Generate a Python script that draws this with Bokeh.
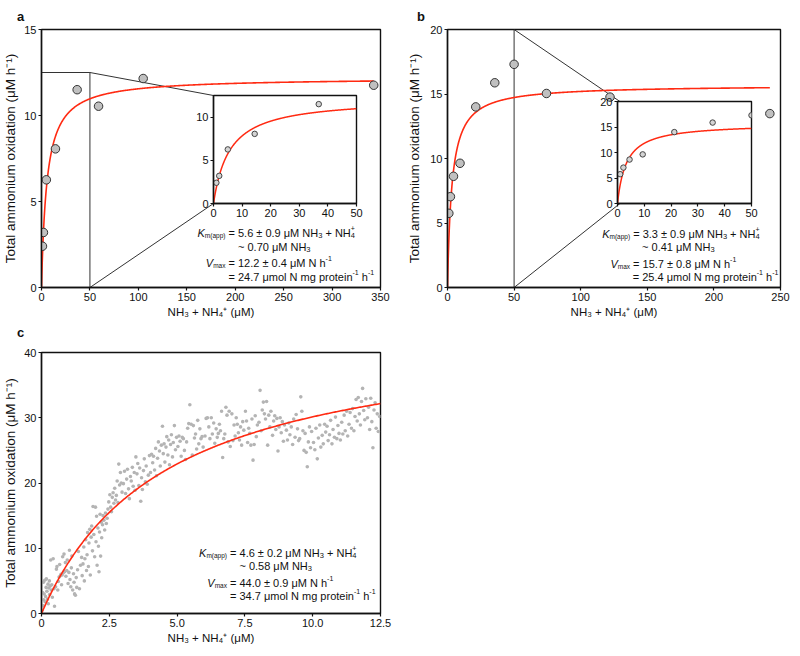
import numpy as np
from bokeh.plotting import figure
from bokeh.models import GridBox, Range1d, FixedTicker, Div
from bokeh.core.properties import value
from bokeh.embed import file_html
from bokeh.resources import INLINE

# ---------------- data ----------------
# panel a
A_S = [1.0, 2.0, 5.0, 14.4, 36.8, 58.9, 105.0, 343.0]
A_V = [2.40, 3.20, 6.26, 8.06, 11.50, 10.54, 12.15, 11.76]
A_FIT = dict(km=5.6, km_err=0.9, km_nh3=0.70, vmax=12.2, vmax_err=0.4, vspec=24.7)
A_XTICKS = [0, 50, 100, 150, 200, 250, 300, 350]
A_YTICKS = [0, 5, 10, 15]
A_IN_X = (0, 50)
A_IN_Y = (0, 12.5)
A_IN_XTICKS = [0, 10, 20, 30, 40, 50]
A_IN_YTICKS = [0, 5, 10]

# panel b
B_S = [1.0, 2.2, 4.5, 9.4, 21.2, 35.5, 50.0, 74.3, 122.0, 242.0]
B_V = [5.75, 7.04, 8.62, 9.63, 14.0, 15.87, 17.3, 15.04, 14.76, 13.48]
B_FIT = dict(km=3.3, km_err=0.9, km_nh3=0.41, vmax=15.7, vmax_err=0.8, vspec=25.4)
B_XTICKS = [0, 50, 100, 150, 200, 250]
B_YTICKS = [0, 5, 10, 15, 20]
B_IN_X = (0, 50)
B_IN_Y = (0, 20)
B_IN_XTICKS = [0, 10, 20, 30, 40, 50]
B_IN_YTICKS = [0, 5, 10, 15, 20]

# panel c
C_S = [
    0.02, 0.04, 0.05, 0.07, 0.08, 0.10, 0.12, 0.13, 0.15, 0.17, 0.18, 0.20, 0.22, 0.24, 0.25, 0.27, 0.29, 0.30, 0.32, 0.34, 0.36, 0.38, 0.40, 0.43, 0.46, 0.48,
    0.52, 0.55, 0.57, 0.60, 0.62, 0.65, 0.67, 0.70, 0.72, 0.74, 0.76, 0.78, 0.80, 0.83, 0.85, 0.88, 0.90, 0.93, 0.95, 0.98,
    1.01, 1.03, 1.05, 1.08, 1.10, 1.12, 1.15, 1.18, 1.20, 1.22, 1.25, 1.28, 1.30, 1.33, 1.36, 1.40, 1.44, 1.48,
    1.50, 1.53, 1.56, 1.58, 1.60, 1.63, 1.66, 1.68, 1.70, 1.73, 1.75, 1.78, 1.80, 1.83, 1.85, 1.88, 1.90, 1.93, 1.96, 1.99,
    2.01, 2.03, 2.05, 2.08, 2.10, 2.12, 2.14, 2.16, 2.18, 2.20, 2.22, 2.25, 2.27, 2.30, 2.33, 2.36, 2.39, 2.42, 2.45, 2.48,
    2.52, 2.55, 2.58, 2.61, 2.64, 2.67, 2.70, 2.73, 2.76, 2.79, 2.82, 2.85, 2.88, 2.91, 2.94, 2.97,
    3.02, 3.06, 3.10, 3.14, 3.17, 3.21, 3.24, 3.28, 3.31, 3.35, 3.38, 3.42, 3.45, 3.48,
    3.52, 3.55, 3.59, 3.62, 3.66, 3.69, 3.72, 3.76, 3.79, 3.83, 3.86, 3.90, 3.94, 3.98,
    4.02, 4.06, 4.10, 4.13, 4.17, 4.21, 4.24, 4.28, 4.31, 4.35, 4.38, 4.42, 4.46, 4.49,
    4.52, 4.55, 4.59, 4.62, 4.66, 4.69, 4.72, 4.76, 4.79, 4.83, 4.86, 4.90, 4.94, 4.98,
    5.03, 5.07, 5.11, 5.15, 5.19, 5.23, 5.27, 5.31, 5.35, 5.39, 5.43, 5.47,
    5.52, 5.56, 5.60, 5.64, 5.68, 5.72, 5.76, 5.80, 5.84, 5.88, 5.92, 5.96,
    6.03, 6.07, 6.12, 6.17, 6.21, 6.26, 6.30, 6.35, 6.39, 6.44, 6.48,
    6.52, 6.56, 6.60, 6.64, 6.68, 6.72, 6.76, 6.80, 6.84, 6.88, 6.92, 6.96,
    7.02, 7.06, 7.10, 7.14, 7.18, 7.22, 7.26, 7.30, 7.34, 7.38, 7.42, 7.46,
    7.52, 7.56, 7.60, 7.64, 7.68, 7.72, 7.76, 7.80, 7.84, 7.88, 7.92, 7.96,
    8.02, 8.06, 8.10, 8.14, 8.18, 8.22, 8.26, 8.30, 8.34, 8.38, 8.42, 8.46,
    8.52, 8.56, 8.60, 8.64, 8.68, 8.72, 8.76, 8.80, 8.84, 8.88, 8.92, 8.96,
    9.03, 9.07, 9.12, 9.16, 9.21, 9.26, 9.30, 9.35, 9.39, 9.44, 9.48,
    9.52, 9.56, 9.60, 9.64, 9.68, 9.72, 9.76, 9.80, 9.84, 9.88, 9.92, 9.96,
    10.03, 10.08, 10.12, 10.17, 10.21, 10.26, 10.30, 10.35, 10.39, 10.44, 10.48,
    10.53, 10.57, 10.62, 10.66, 10.71, 10.75, 10.80, 10.84, 10.89, 10.93, 10.97,
    11.02, 11.07, 11.11, 11.16, 11.20, 11.25, 11.29, 11.34, 11.38, 11.43, 11.47,
    11.52, 11.56, 11.60, 11.64, 11.68, 11.72, 11.76, 11.80, 11.84, 11.88, 11.92, 11.96,
    12.02, 12.06, 12.10, 12.14, 12.18, 12.22, 12.26, 12.30, 12.34, 12.38, 12.42, 12.47,
]
C_V = [
    0.5, 3.2, 1.2, 4.8, 2.1, 3.0, 5.1, 1.8, 2.6, 4.0, 5.3, 3.4, 2.2, 4.5, 1.5, 3.9, 5.0, 2.9, 4.2, 8.2, 3.6, 4.4, 2.5, 8.4, 3.8, 1.1,
    4.1, 6.8, 7.2, 3.6, 4.9, 5.6, 7.5, 5.8, 6.0, 4.4, 5.9, 8.7, 6.2, 9.1, 6.4, 7.8, 5.7, 6.6, 8.2, 4.6,
    6.3, 9.7, 5.2, 4.1, 7.0, 8.8, 3.6, 6.1, 4.8, 3.0, 2.8, 5.5, 4.0, 6.7, 9.5, 3.8, 7.4, 8.6,
    5.8, 7.6, 10.2, 5.0, 8.4, 11.3, 6.6, 9.0, 12.4, 7.2, 10.8, 12.9, 5.9, 11.7, 13.4, 9.6, 16.4, 12.1, 8.7, 16.3,
    11.0, 14.9, 7.4, 13.1, 10.3, 6.4, 12.5, 15.2, 8.8, 14.0, 11.6, 13.6, 15.0, 14.3, 12.8, 15.4, 13.8, 14.6, 16.0, 17.1,
    18.2, 16.3, 15.6, 17.8, 18.5, 16.9, 19.2, 17.4, 18.1, 20.3, 17.0, 22.9, 19.7, 21.6, 20.0, 18.6,
    19.9, 21.8, 18.4, 20.6, 22.1, 19.1, 17.6, 21.0, 20.3, 22.4, 19.5, 21.6, 18.9, 24.0,
    21.4, 23.0, 19.6, 22.3, 17.2, 20.8, 19.0, 21.9, 23.7, 20.2, 22.6, 19.8, 21.2, 24.2,
    21.6, 24.4, 23.1, 24.1, 22.0, 25.3, 21.1, 23.8, 26.3, 24.9, 22.6, 25.8, 28.7, 24.5,
    26.0, 23.2, 25.5, 27.1, 24.3, 26.6, 22.8, 25.9, 27.4, 24.0, 26.2, 28.8, 25.1, 27.0,
    25.6, 27.2, 26.4, 24.1, 27.0, 26.8, 25.0, 23.6, 26.3, 28.4, 29.1, 32.0,
    29.0, 24.3, 28.8, 26.9, 27.5, 25.2, 29.6, 26.0, 28.3, 26.8, 27.1, 25.5,
    27.2, 29.9, 30.0, 28.6, 26.8, 30.0, 27.5, 29.2, 26.1, 28.3, 27.0,
    27.6, 29.0, 28.0, 31.0, 23.9, 26.8, 27.5, 31.6, 30.4, 26.3, 31.0, 25.6,
    30.6, 26.5, 28.9, 27.2, 30.0, 29.0, 27.7, 26.6, 28.6, 25.8, 29.4, 28.1,
    31.0, 29.5, 26.2, 28.4, 27.6, 25.8, 29.8, 23.5, 25.9, 30.3, 27.1, 28.9,
    29.3, 34.2, 28.0, 31.2, 32.4, 30.6, 29.8, 32.5, 25.8, 30.4, 28.6, 31.0,
    27.3, 29.5, 30.3, 28.2, 29.9, 24.9, 28.6, 30.0, 27.7, 29.4, 26.4, 28.9,
    28.1, 26.6, 29.2, 27.4, 28.6, 25.9, 29.8, 27.0, 30.5, 28.3, 26.5,
    26.8, 33.2, 31.0, 28.0, 25.0, 27.6, 24.7, 22.5, 26.3, 28.6, 25.4, 27.9,
    26.2, 25.1, 28.4, 23.7, 26.9, 28.9, 25.5, 27.3, 26.0, 29.0, 27.8,
    28.7, 26.5, 27.4, 29.6, 26.0, 28.2, 27.0, 30.1, 26.8, 28.8, 27.6,
    26.6, 29.3, 27.5, 30.4, 28.0, 31.0, 27.2, 29.0, 30.8, 28.4, 31.4,
    28.0, 30.2, 32.8, 29.5, 33.1, 30.6, 28.9, 32.5, 34.5, 31.1, 29.7, 32.9,
    30.0, 31.6, 28.2, 33.0, 29.4, 25.4, 31.2, 32.3, 28.4, 30.6, 27.9, 30.2,
]
C_FIT = dict(km=4.6, km_err=0.2, km_nh3=0.58, vmax=44.0, vmax_err=0.9, vspec=34.7)
C_XTICKS = [0, 2.5, 5, 7.5, 10, 12.5]
C_XLABELS = ["0", "2.5", "5.0", "7.5", "10.0", "12.5"]
C_YTICKS = [0, 10, 20, 30, 40]

PANEL_LETTERS = ["a", "b", "c"]
X_LABEL = "NH\u2083 + NH\u2084\u207a (\u03bcM)"
Y_LABEL = "Total ammonium oxidation (\u03bcM h\u207b\u00b9)"
assert len(C_S) == len(C_V)

# ---------------- style ----------------
FONT = "Liberation Sans"
INK = "#111111"
RED = "#ff2a12"

# Arial / Liberation Sans advance widths (1/1000 em)
W = {' ': 278, '(': 333, ')': 333, '+': 584, '-': 333, '.': 278, '=': 584, '~': 584,
     '\u00b1': 549, '\u03bc': 576, 'K': 667, 'M': 833, 'N': 722, 'H': 722, 'V': 667,
     'a': 556, 'e': 556, 'g': 556, 'h': 556, 'i': 222, 'l': 222, 'm': 833, 'n': 556,
     'o': 556, 'p': 556, 'r': 333, 't': 278, 'x': 500}


def tw(s, size):
    return sum(W.get(c, 556) for c in s) * size / 1000.0


class Geo:
    """frame geometry (absolute page px) -> data coordinates"""
    def __init__(self, left, top, w, h, xr, yr):
        self.left, self.top, self.w, self.h, self.xr, self.yr = left, top, w, h, xr, yr

    def x(self, px):
        return self.xr[0] + (px - self.left) / self.w * (self.xr[1] - self.xr[0])

    def y(self, py):
        return self.yr[1] - (py - self.top) / self.h * (self.yr[1] - self.yr[0])


def make_fig(pos, size, borders, xr, yr, xt, yt, inset=False, xlabels=None, ylab_standoff=3):
    (gx, gy), (w, h), (L, R, T, B) = pos, size, borders
    p = figure(width=w, height=h, x_range=Range1d(*xr), y_range=Range1d(*yr),
               min_border_left=L, min_border_right=R, min_border_top=T, min_border_bottom=B,
               output_backend="svg", toolbar_location=None, tools="")
    p.xgrid.visible = False
    p.ygrid.visible = False
    p.xaxis.ticker = FixedTicker(ticks=xt)
    p.yaxis.ticker = FixedTicker(ticks=yt)
    if xlabels:
        p.xaxis.major_label_overrides = {float(t): s for t, s in zip(xt, xlabels)}
    for ax in (p.xaxis[0], p.yaxis[0]):
        ax.major_tick_out = 3
        ax.major_tick_in = 0
        ax.minor_tick_out = 0
        ax.minor_tick_in = 0
        ax.axis_line_color = INK
        ax.axis_line_width = 1.4
        ax.major_tick_line_color = INK
        ax.major_tick_line_width = 1.2
        ax.major_label_text_font = FONT
        ax.major_label_text_font_size = "11px"
        ax.major_label_text_color = INK
        ax.major_label_standoff = 2
        ax.axis_label_text_font = FONT
        ax.axis_label_text_font_style = "normal"
        ax.axis_label_text_color = INK
    p.xaxis.axis_label_text_font_size = "11.5px"
    p.yaxis.axis_label_text_font_size = "13.5px"
    p.xaxis.axis_label_standoff = 2
    p.yaxis.axis_label_standoff = ylab_standoff
    p.outline_line_color = INK
    p.outline_line_width = 1.4
    p.outline_line_alpha = 1.0
    p.background_fill_color = "white"
    if inset:
        p.border_fill_alpha = 0.0
    else:
        p.border_fill_color = "white"
        p.xaxis.axis_label = X_LABEL
        p.yaxis.axis_label = Y_LABEL
    geo = Geo(gx + L, gy + T, w - L - R, h - T - B, xr, yr)
    return p, geo


def fit_curve(fit, smax):
    s = (np.linspace(0.0, 1.0, 600) ** 2) * smax
    return s, fit["vmax"] * s / (fit["km"] + s)


STY = {
    "n": (11, "normal", 0),
    "i": (11, "italic", 0),
    "lo": (6.5, "normal", 3),
    "sb": (7.5, "normal", 3),
    "sp": (7, "normal", -4.5),
}


def draw_rich(p, geo, x_px, y_px, segs):
    xd, yd = geo.x(x_px), geo.y(y_px)
    off, prev_w = 0.0, 0.0
    for seg in segs:
        text, st = seg[0], seg[1]
        stack = len(seg) > 2
        size, style, dy = STY[st]
        w = tw(text, size)
        x0 = off - prev_w if stack else off
        lead = len(text) - len(text.lstrip(" "))
        body = text.strip(" ")
        if body:
            p.text(x=[xd], y=[yd], text=[body], x_offset=x0 + tw(" " * lead, size), y_offset=dy,
                   text_font=value(FONT), text_font_size=value(f"{size}px"),
                   text_font_style=value(style), text_color=INK,
                   text_align=value("left"), text_baseline=value("alphabetic"))
        if stack:
            off = x0 + max(w, prev_w)
        else:
            off += w
            prev_w = w


def annotate(p, geo, x_eq, ys, f):
    w1 = tw("K", 11) + tw("m(app)", 6.5) + tw(" ", 11)
    draw_rich(p, geo, x_eq - w1, ys[0], [
        ("K", "i"), ("m(app)", "lo"),
        (f" = {f['km']:.1f} \u00b1 {f['km_err']:.1f} \u03bcM NH", "n"), ("3", "sb"),
        (" + NH", "n"), ("4", "sb"), ("+", "sp", True)])
    draw_rich(p, geo, x_eq + tw("= ", 11), ys[1], [
        (f"~ {f['km_nh3']:.2f} \u03bcM NH", "n"), ("3", "sb")])
    w3 = tw("V", 11) + tw("max", 6.5) + tw(" ", 11)
    draw_rich(p, geo, x_eq - w3, ys[2], [
        ("V", "i"), ("max", "lo"),
        (f" = {f['vmax']:.1f} \u00b1 {f['vmax_err']:.1f} \u03bcM N h", "n"), ("-1", "sp")])
    draw_rich(p, geo, x_eq, ys[3], [
        (f"= {f['vspec']:.1f} \u03bcmol N mg protein", "n"), ("-1", "sp"),
        (" h", "n"), ("-1", "sp")])


def letter_div(t, left, top):
    return Div(text=f'<span style="font: bold 13px \'{FONT}\'; line-height: 13px; color: {INK};">{t}</span>',
               styles={"position": "relative", "left": f"{left}px", "top": f"{top}px",
                       "font-family": FONT, "font-weight": "bold", "font-size": "13px",
                       "line-height": "13px"})


# ---------------- layout (absolute page px; grid tracks) ----------------
COLS = [191, 175, 34, 4, 191, 166, 37]
ROWS = [90, 6, 127, 97, 334]

# ---------------- panel a ----------------
pa, ga = make_fig((0, 0), (400, 320), (41, 20, 29, 33), (0, 350), (0, 15), A_XTICKS, A_YTICKS)
ia, gia = make_fig((191, 90), (175, 133), (22, 10, 5, 20), A_IN_X, A_IN_Y,
                   A_IN_XTICKS, A_IN_YTICKS, inset=True)
pa.line([A_IN_X[0], A_IN_X[1], A_IN_X[1]], [A_IN_Y[1], A_IN_Y[1], A_IN_Y[0]], line_color="#333333", line_width=1)
pa.line([A_IN_X[1], ga.x(gia.left)], [A_IN_Y[1], ga.y(gia.top)], line_color="#333333", line_width=1)
pa.line([A_IN_X[1], ga.x(gia.left)], [A_IN_Y[0], ga.y(gia.top + gia.h)], line_color="#333333", line_width=1)
s, v = fit_curve(A_FIT, max(A_S))
pa.line(s, v, line_color=RED, line_width=1.6)
pa.scatter(A_S, A_V, size=8.5, fill_color="#c0c0c0", line_color="#333333", line_width=1)
annotate(pa, ga, 228, [232, 246, 262, 276], A_FIT)
s, v = fit_curve(A_FIT, A_IN_X[1])
ia.line(s, v, line_color=RED, line_width=1.5)
a_in = [(x, y) for x, y in zip(A_S, A_V) if x <= A_IN_X[1]]
ia.scatter([t[0] for t in a_in], [t[1] for t in a_in], size=5.5, fill_color="#d4d4d4",
           line_color="#444444", line_width=1)

# ---------------- panel b ----------------
pb, gb = make_fig((404, 0), (394, 320), (38, 18, 29, 33), (0, 250), (0, 20), B_XTICKS, B_YTICKS,
                  ylab_standoff=5)
ib, gib = make_fig((595, 96), (166, 127), (22, 10, 5, 20), B_IN_X, B_IN_Y,
                   B_IN_XTICKS, B_IN_YTICKS, inset=True)
pb.line([B_IN_X[1], B_IN_X[1]], [B_IN_Y[1], B_IN_Y[0]], line_color="#333333", line_width=1)
pb.line([B_IN_X[1], gb.x(gib.left)], [B_IN_Y[1], gb.y(gib.top)], line_color="#333333", line_width=1)
pb.line([B_IN_X[1], gb.x(gib.left)], [B_IN_Y[0], gb.y(gib.top + gib.h)], line_color="#333333", line_width=1)
s, v = fit_curve(B_FIT, max(B_S))
pb.line(s, v, line_color=RED, line_width=1.6)
pb.scatter(B_S, B_V, size=8.5, fill_color="#c0c0c0", line_color="#333333", line_width=1)
annotate(pb, gb, 630, [233, 246, 263, 276], B_FIT)
s, v = fit_curve(B_FIT, B_IN_X[1])
ib.line(s, v, line_color=RED, line_width=1.5)
b_in = [(x, y) for x, y in zip(B_S, B_V) if x <= B_IN_X[1]]
ib.scatter([t[0] for t in b_in], [t[1] for t in b_in], size=5.5, fill_color="#d4d4d4",
           line_color="#444444", line_width=1)

# ---------------- panel c ----------------
pc, gc = make_fig((0, 320), (400, 334), (41, 19, 32, 41), (0, 12.5), (0, 40), C_XTICKS, C_YTICKS,
                  xlabels=C_XLABELS)
pc.scatter(C_S, C_V, size=3.6, fill_color="#b4b4b4", line_color=None)
s, v = fit_curve(C_FIT, C_XTICKS[-1])
pc.line(s, v, line_color=RED, line_width=1.6)
annotate(pc, gc, 230, [552, 565, 582, 595], C_FIT)

la = letter_div(PANEL_LETTERS[0], 12, 5)
lb = letter_div(PANEL_LETTERS[1], 8, 5)
lc = letter_div(PANEL_LETTERS[2], 12, 1)

grid = GridBox(children=[(pa, 0, 0, 4, 3), (pb, 0, 4, 4, 3), (ia, 1, 1, 2, 1), (ib, 2, 5, 1, 1),
                         (pc, 4, 0, 1, 3), (la, 0, 0), (lb, 0, 4), (lc, 4, 0)],
               rows=[f"{r}px" for r in ROWS], cols=[f"{c}px" for c in COLS], spacing=0)

open("out.html", "w").write(file_html(grid, INLINE))
